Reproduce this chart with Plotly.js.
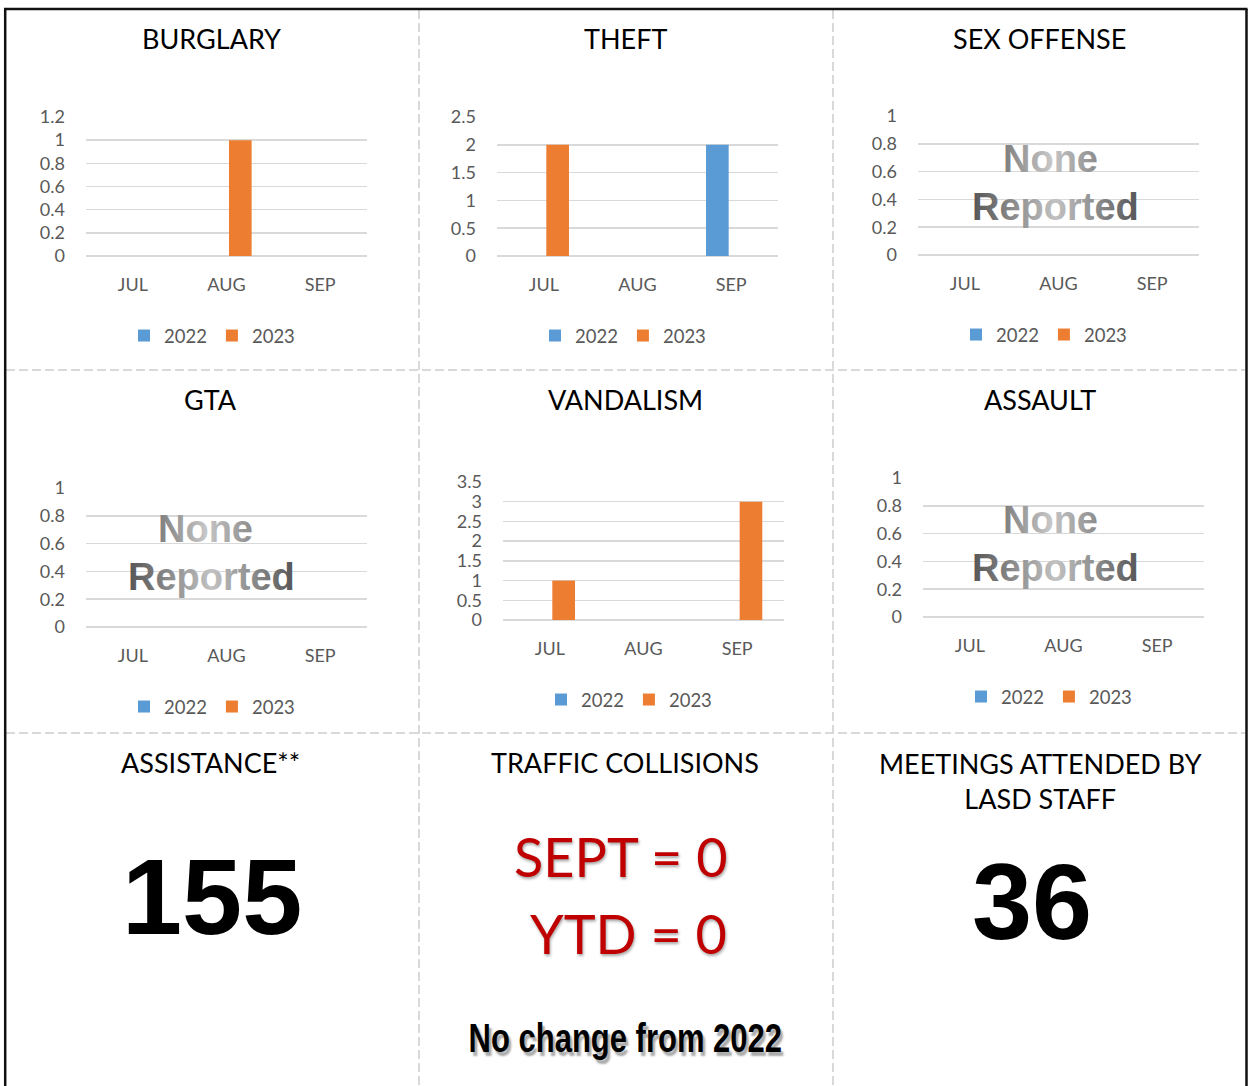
<!DOCTYPE html>
<html><head><meta charset="utf-8">
<script src="https://cdn.plot.ly/plotly-3.0.1.min.js"></script>
<style>html,body{margin:0;padding:0;background:#fff;} #chart{width:1248px;height:1086px;}</style>
</head><body><div id="chart"></div>
<script>
// ---------- DATA ----------
const months = ['JUL', 'AUG', 'SEP'];
const seriesNames = ['2022', '2023'];
const burglary2022 = [0, 0, 0];
const burglary2023 = [0, 1, 0];
const theft2022 = [0, 0, 2];
const theft2023 = [2, 0, 0];
const sexOffense2022 = [0, 0, 0];
const sexOffense2023 = [0, 0, 0];
const gta2022 = [0, 0, 0];
const gta2023 = [0, 0, 0];
const vandalism2022 = [0, 0, 0];
const vandalism2023 = [1, 0, 3];
const assault2022 = [0, 0, 0];
const assault2023 = [0, 0, 0];
const panelTitles = ['BURGLARY', 'THEFT', 'SEX OFFENSE', 'GTA', 'VANDALISM', 'ASSAULT'];
const yMax = [1.2, 2.5, 1, 1, 3.5, 1];
const yStep = [0.2, 0.5, 0.2, 0.2, 0.5, 0.2];
const noneReported = [false, false, true, true, false, true];
const assistanceTitle = 'ASSISTANCE**';
const assistanceCount = 155;
const collisionsTitle = 'TRAFFIC COLLISIONS';
const collisionsSept = 0;
const collisionsYTD = 0;
const collisionsNote = 'No change from 2022';
const meetingsTitle = 'MEETINGS ATTENDED BY<br>LASD STAFF';
const meetingsCount = 36;

const series2022 = [burglary2022, theft2022, sexOffense2022, gta2022, vandalism2022, assault2022];
const series2023 = [burglary2023, theft2023, sexOffense2023, gta2023, vandalism2023, assault2023];

// ---------- LAYOUT (pixels) ----------
const W = 1248, H = 1086;
const fx = x => x / W;
const fy = y => 1 - y / H;
const C2022 = '#5b9bd5', C2023 = '#ed7d31';
const FONT = 'Lato, Carlito, Calibri, "Open Sans", sans-serif';
const GRID = '#d9d9d9';
const TICK = '#595959';

// plot boxes: [x0, x1, yTop, yBottom]
const boxes = [[86,367,117,256],[497,778,117,256],[918,1199,116,255],[86,367,488,627],[503,784,482,620],[923,1204,478,617]];
const titlePos = [[211,39],[625,39],[1039,39],[210,399],[625,399],[1040,399]];
const legendPos = [[212,336],[623,336],[1044,335],[212,707],[629,700],[1049,697]];
const nonePos = [null,null,[[1050,159],[1055,207]],[[205,529],[211,577]],null,[[1050,520],[1055,568]]];

const data = [];
const layout = {
  width: W, height: H,
  margin: {l:0, r:0, t:0, b:0},
  paper_bgcolor: '#fff', plot_bgcolor: 'rgba(0,0,0,0)',
  barmode: 'group', bargap: 0.41, bargroupgap: 0.18,
  showlegend: true,
  shapes: [], annotations: []
};

for (let i = 0; i < 6; i++) {
  const n = i + 1, sfx = n === 1 ? '' : String(n);
  const lg = 'legend' + sfx;
  const [x0, x1, yt, yb] = boxes[i];
  [series2022[i], series2023[i]].forEach((vals, k) => {
    data.push({
      type: 'bar', x: months, y: vals, name: seriesNames[k],
      marker: {color: k === 0 ? C2022 : C2023},
      xaxis: 'x' + sfx, yaxis: 'y' + sfx, legend: lg,
      hoverinfo: 'skip'
    });
  });
  layout['xaxis' + sfx] = {
    domain: [fx(x0), fx(x1)], anchor: 'y' + sfx,
    showgrid: false, zeroline: false, showline: false, ticks: '',
    tickfont: {family: FONT, size: 18, color: TICK},
    ticklabelstandoff: 16, fixedrange: true
  };
  layout['yaxis' + sfx] = {
    domain: [fy(yb), fy(yt)], anchor: 'x' + sfx,
    range: [0, yMax[i] + 1e-6], tick0: 0, dtick: yStep[i],
    showgrid: true, gridcolor: GRID, gridwidth: 1.5,
    zeroline: true, zerolinecolor: GRID, zerolinewidth: 1.5,
    showline: false, ticks: '',
    tickfont: {family: FONT, size: 18, color: TICK},
    ticklabelstandoff: 20, fixedrange: true
  };
  layout[lg] = {
    orientation: 'h', x: fx(legendPos[i][0]), xanchor: 'center',
    y: fy(legendPos[i][1]), yanchor: 'middle',
    font: {family: FONT, size: 18.5, color: TICK},
    bgcolor: 'rgba(0,0,0,0)', itemwidth: 30, traceorder: 'normal'
  };
  layout.annotations.push({
    text: panelTitles[i], xref: 'paper', yref: 'paper',
    x: fx(titlePos[i][0]), y: fy(titlePos[i][1]), xanchor: 'center', yanchor: 'middle',
    showarrow: false, font: {family: FONT, size: 27, color: '#000'}
  });
  if (noneReported[i] && nonePos[i]) {
    ['None', 'Reported'].forEach((t, j) => {
      layout.annotations.push({
        text: t, xref: 'paper', yref: 'paper',
        x: fx(nonePos[i][j][0]), y: fy(nonePos[i][j][1]), xanchor: 'center', yanchor: 'middle',
        showarrow: false, font: {family: '"Liberation Sans", Arial, sans-serif', size: 38, weight: 'bold', color: '#999'}
      });
    });
  }
}

// bottom row texts
const bottomAnn = [
  {text: assistanceTitle, x: 210, y: 762, font: {family: FONT, size: 27, color: '#000'}},
  {text: String(assistanceCount), x: 212, y: 897, font: {family: '"Liberation Sans", Arial, sans-serif', size: 108, weight: 'bold', color: '#000'}},
  {text: collisionsTitle, x: 625, y: 762, font: {family: FONT, size: 27, color: '#000'}},
  {text: 'SEPT = ' + collisionsSept, x: 729, y: 856, xanchor: 'right', font: {family: FONT, size: 54, color: '#c00000', shadow: '1px 2px 3px rgba(0,0,0,0.35)'}},
  {text: 'YTD = ' + collisionsYTD, x: 729, y: 933, xanchor: 'right', font: {family: FONT, size: 54, color: '#c00000', shadow: '1px 2px 3px rgba(0,0,0,0.35)'}},
  {text: collisionsNote, x: 625, y: 1038, font: {family: '"Liberation Sans", Arial, sans-serif', size: 40, weight: 'bold', color: '#000', shadow: '3px 4px 2px #aaa'}},
  {text: meetingsTitle, x: 1040, y: 781, font: {family: FONT, size: 27, color: '#000'}},
  {text: String(meetingsCount), x: 1032, y: 901, font: {family: '"Liberation Sans", Arial, sans-serif', size: 108, weight: 'bold', color: '#000'}}
];
bottomAnn.forEach(a => {
  layout.annotations.push({
    text: a.text, xref: 'paper', yref: 'paper', x: fx(a.x), y: fy(a.y),
    xanchor: a.xanchor || 'center', yanchor: 'middle', showarrow: false, font: a.font
  });
});

// frame & dividers
const line = (x0, y0, x1, y1, color, width, dash) => ({
  type: 'line', xref: 'paper', yref: 'paper', x0: fx(x0), y0: fy(y0), x1: fx(x1), y1: fy(y1),
  line: {color: color, width: width, dash: dash || 'solid'}, layer: 'below'
});
layout.shapes.push(line(419, 10, 419, 1090, GRID, 2, '9px,4px'));
layout.shapes.push(line(833, 10, 833, 1090, GRID, 2, '9px,4px'));
layout.shapes.push(line(6, 370, 1245, 370, GRID, 2, '9px,4px'));
layout.shapes.push(line(6, 733, 1245, 733, GRID, 2, '9px,4px'));
layout.shapes.push(line(5.2, 9, 5.2, 1090, '#111', 2.5));
layout.shapes.push(line(4, 9, 1247.5, 9, '#111', 2.5));
layout.shapes.push(line(1246.5, 9, 1246.5, 1090, '#111', 2.5));

Plotly.newPlot('chart', data, layout, {staticPlot: true, displayModeBar: false}).then(gd => {
  const ns = 'http://www.w3.org/2000/svg';
  const svg = gd.querySelector('svg.main-svg');
  let defs = svg.querySelector('defs');
  if (!defs) { defs = document.createElementNS(ns, 'defs'); svg.insertBefore(defs, svg.firstChild); }
  const mk = (id, stops) => {
    const g = document.createElementNS(ns, 'linearGradient');
    g.setAttribute('id', id); g.setAttribute('x1', '0'); g.setAttribute('y1', '0'); g.setAttribute('x2', '1'); g.setAttribute('y2', '0');
    stops.forEach(([o, c]) => { const s = document.createElementNS(ns, 'stop'); s.setAttribute('offset', o); s.setAttribute('stop-color', c); g.appendChild(s); });
    defs.appendChild(g);
  };
  mk('gNone', [['0', '#7d7d7d'], ['0.5', '#c6c6c6'], ['1', '#8c8c8c']]);
  mk('gRep', [['0', '#555555'], ['0.5', '#c2c2c2'], ['1', '#555555']]);
  gd.querySelectorAll('.annotation-text').forEach(t => {
    if (t.textContent === 'None') t.style.fill = 'url(#gNone)';
    if (t.textContent === 'Reported') t.style.fill = 'url(#gRep)';
    if (t.textContent === collisionsNote) {
      t.style.transformBox = 'fill-box';
      t.style.transformOrigin = 'center';
      t.style.transform = 'scaleX(0.775)';
    }
  });
});
</script>
</body></html>
